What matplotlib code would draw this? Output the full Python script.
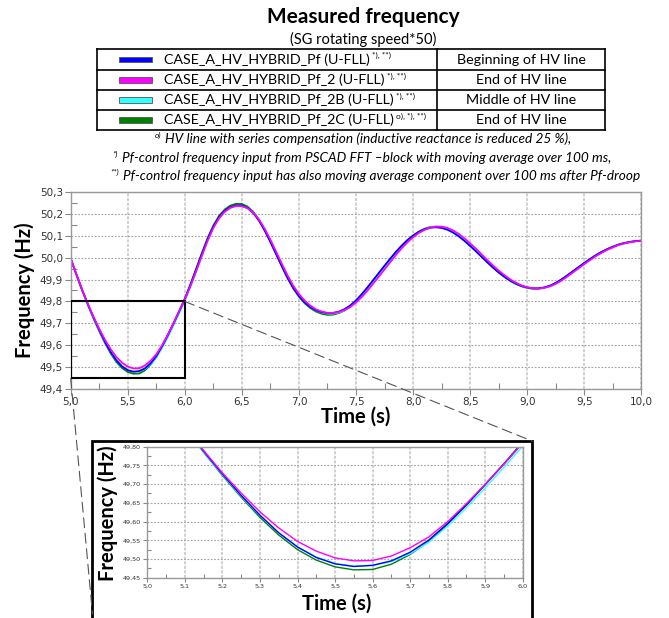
import numpy as np
import matplotlib
matplotlib.use('Agg')
import matplotlib.pyplot as plt
from matplotlib.patches import Rectangle, ConnectionPatch
from matplotlib.lines import Line2D
from matplotlib.ticker import MultipleLocator, FuncFormatter

W, H = 669, 618

# sample times 5.00 ... 10.00 s every 50 ms
time_s = np.round(np.arange(101) * 0.05 + 5.0, 2)

# measured frequencies (Hz)
freq_pf = [49.995, 49.923, 49.853, 49.788, 49.727, 49.670, 49.617, 49.570, 49.532, 49.504,
           49.487, 49.480, 49.483, 49.495, 49.518, 49.551, 49.595, 49.645, 49.699, 49.754,
           49.811, 49.876, 49.946, 50.017, 50.084, 50.141, 50.184, 50.213, 50.230, 50.238,
           50.237, 50.226, 50.203, 50.168, 50.123, 50.071, 50.016, 49.961, 49.908, 49.862,
           49.825, 49.796, 49.775, 49.760, 49.751, 49.747, 49.748, 49.754, 49.765, 49.782,
           49.805, 49.833, 49.864, 49.897, 49.930, 49.963, 49.995, 50.026, 50.054, 50.079,
           50.100, 50.117, 50.129, 50.136, 50.138, 50.135, 50.127, 50.114, 50.097, 50.076,
           50.053, 50.029, 50.004, 49.979, 49.955, 49.933, 49.913, 49.896, 49.882, 49.871,
           49.864, 49.860, 49.860, 49.864, 49.872, 49.884, 49.900, 49.918, 49.937, 49.956,
           49.975, 49.993, 50.010, 50.025, 50.038, 50.049, 50.059, 50.066, 50.071, 50.075,
           50.077]

freq_pf_2 = [49.995, 49.924, 49.854, 49.790, 49.730, 49.676, 49.626, 49.583, 49.547, 49.521,
             49.503, 49.495, 49.496, 49.508, 49.530, 49.559, 49.600, 49.648, 49.700, 49.754,
             49.810, 49.871, 49.939, 50.009, 50.077, 50.135, 50.179, 50.209, 50.227, 50.235,
             50.234, 50.225, 50.205, 50.173, 50.131, 50.081, 50.027, 49.972, 49.919, 49.872,
             49.834, 49.804, 49.781, 49.764, 49.754, 49.748, 49.748, 49.752, 49.761, 49.775,
             49.795, 49.820, 49.849, 49.881, 49.913, 49.946, 49.979, 50.012, 50.042, 50.069,
             50.092, 50.112, 50.126, 50.136, 50.141, 50.141, 50.135, 50.124, 50.108, 50.088,
             50.065, 50.041, 50.015, 49.989, 49.964, 49.941, 49.920, 49.901, 49.886, 49.873,
             49.865, 49.860, 49.859, 49.862, 49.869, 49.880, 49.895, 49.913, 49.932, 49.951,
             49.970, 49.988, 50.006, 50.021, 50.035, 50.046, 50.057, 50.064, 50.070, 50.074,
             50.076]

freq_pf_2b = [49.995, 49.923, 49.852, 49.786, 49.725, 49.668, 49.616, 49.570, 49.533, 49.505,
              49.488, 49.481, 49.483, 49.493, 49.514, 49.545, 49.588, 49.637, 49.690, 49.745,
              49.802, 49.867, 49.937, 50.009, 50.077, 50.136, 50.180, 50.210, 50.227, 50.235,
              50.234, 50.224, 50.203, 50.170, 50.127, 50.076, 50.021, 49.966, 49.913, 49.866,
              49.828, 49.798, 49.776, 49.760, 49.750, 49.745, 49.745, 49.750, 49.760, 49.776,
              49.798, 49.825, 49.856, 49.889, 49.922, 49.955, 49.988, 50.020, 50.049, 50.075,
              50.097, 50.115, 50.128, 50.137, 50.140, 50.138, 50.131, 50.119, 50.103, 50.082,
              50.059, 50.035, 50.009, 49.984, 49.959, 49.937, 49.916, 49.898, 49.884, 49.872,
              49.864, 49.860, 49.859, 49.863, 49.870, 49.882, 49.897, 49.915, 49.934, 49.953,
              49.972, 49.991, 50.008, 50.023, 50.036, 50.048, 50.058, 50.065, 50.071, 50.075,
              50.077]

freq_pf_2c = [49.995, 49.922, 49.851, 49.785, 49.723, 49.665, 49.611, 49.564, 49.525, 49.497,
              49.479, 49.471, 49.472, 49.486, 49.512, 49.547, 49.593, 49.644, 49.699, 49.755,
              49.813, 49.879, 49.950, 50.021, 50.089, 50.146, 50.190, 50.219, 50.237, 50.245,
              50.244, 50.232, 50.208, 50.172, 50.126, 50.073, 50.017, 49.961, 49.907, 49.860,
              49.822, 49.792, 49.770, 49.754, 49.744, 49.739, 49.740, 49.747, 49.759, 49.777,
              49.801, 49.829, 49.860, 49.893, 49.926, 49.959, 49.992, 50.024, 50.053, 50.079,
              50.100, 50.118, 50.131, 50.139, 50.141, 50.138, 50.130, 50.117, 50.100, 50.079,
              50.055, 50.031, 50.005, 49.979, 49.955, 49.932, 49.912, 49.894, 49.880, 49.869,
              49.862, 49.858, 49.858, 49.863, 49.871, 49.884, 49.900, 49.918, 49.937, 49.956,
              49.975, 49.993, 50.010, 50.025, 50.038, 50.049, 50.059, 50.066, 50.071, 50.075,
              50.077]

series = [freq_pf, freq_pf_2, freq_pf_2b, freq_pf_2c]
names = ["CASE_A_HV_HYBRID_Pf (U-FLL)", "CASE_A_HV_HYBRID_Pf_2 (U-FLL)",
         "CASE_A_HV_HYBRID_Pf_2B (U-FLL)", "CASE_A_HV_HYBRID_Pf_2C (U-FLL)"]
marks = ["*), **)", "*), **)", "*), **)", "o), *), **)"]
places = ["Beginning of HV line", "End of HV line", "Middle of HV line", "End of HV line"]
colors = ["#0000ff", "#ff00ff", "#33ffff", "#008000"]
draw_order = [3, 2, 0, 1]

notes = [("o)", "HV line with series compensation (inductive reactance is reduced 25 %),", 363),
         ("*)", "Pf-control frequency input from PSCAD FFT \u2013block with moving average over 100 ms,", 362),
         ("**)", "Pf-control frequency input has also moving average component over 100 ms after Pf-droop", 375)]

FONT = "Lato"
plt.rcParams['font.family'] = ['DejaVu Sans']

fig = plt.figure(figsize=(W / 100, H / 100), dpi=100)
fig.patch.set_facecolor('white')


def fx(x):
    return x / W


def fy(y):
    return 1 - y / H


def comma(dec):
    return FuncFormatter(lambda v, p: f"{v:.{dec}f}".replace('.', ','))


def style_axes(a, xmaj, xmin, ymaj, ymin, xdec, ydec, fs, tl):
    a.set_facecolor('white')
    a.xaxis.set_major_locator(MultipleLocator(xmaj))
    a.xaxis.set_minor_locator(MultipleLocator(xmin))
    a.yaxis.set_major_locator(MultipleLocator(ymaj))
    a.yaxis.set_minor_locator(MultipleLocator(ymin))
    a.xaxis.set_major_formatter(comma(xdec))
    a.yaxis.set_major_formatter(comma(ydec))
    a.tick_params(which='major', direction='out', length=tl, width=0.8, color='#888888',
                  labelsize=fs, labelcolor='#333333', pad=1.5)
    a.tick_params(which='minor', direction='in', length=tl, width=0.8, color='#888888')
    a.grid(which='major', axis='y', color='#a0a0a0', lw=0.8, ls=(0, (1.5, 1.5)))
    a.grid(which='major', axis='x', color='#c4c4c4', lw=1.1, ls=(0, (2, 1)))
    a.set_axisbelow(True)
    for s in a.spines.values():
        s.set_color('#999999')
        s.set_linewidth(1.0)


# main chart
ax = fig.add_axes([fx(70.7), fy(389.3), (641.3 - 70.7) / W, (389.3 - 191.7) / H])
for i in draw_order:
    ax.plot(time_s, series[i], color=colors[i], lw=1.3)
ax.set_xlim(5.0, 10.0)
ax.set_ylim(49.4, 50.3)
style_axes(ax, 0.5, 0.25, 0.1, 0.05, 1, 1, 7.5, 4)
ax.add_patch(Rectangle((5.0, 49.45), 1.0, 0.35, fill=False, ec='black', lw=1.5, zorder=5))

fig.text(fx(25), fy(290), "Frequency (Hz)", rotation=90, ha='center', va='center',
         family=FONT, weight='bold', fontsize=14.5)
fig.text(fx(356), fy(417), "Time (s)", ha='center', va='center',
         family=FONT, weight='bold', fontsize=14.5)

# zoomed view
axi = fig.add_axes([fx(147.3), fy(577.7), (522.8 - 147.3) / W, (577.7 - 446.7) / H])
for i in draw_order:
    axi.plot(time_s, series[i], color=colors[i], lw=1.0)
axi.set_xlim(5.0, 6.0)
axi.set_ylim(49.45, 49.80)
style_axes(axi, 0.1, 0.05, 0.05, 0.025, 1, 2, 4.6, 3)

fig.add_artist(Rectangle((fx(92.3), fy(625)), (532 - 92.3) / W, (625 - 440.7) / H,
                         transform=fig.transFigure, fill=False, ec='black', lw=2, zorder=1))
fig.text(fx(108), fy(513), "Frequency (Hz)", rotation=90, ha='center', va='center',
         family=FONT, weight='bold', fontsize=14.5)
fig.text(fx(337), fy(604), "Time (s)", ha='center', va='center',
         family=FONT, weight='bold', fontsize=14.5)

for xy_a, xy_b in [((6.0, 49.8), (fx(532), fy(441))), ((5.0, 49.45), (fx(92.5), fy(614)))]:
    con = ConnectionPatch(xyA=xy_a, coordsA=ax.transData, xyB=xy_b, coordsB=fig.transFigure,
                          color='#555555', lw=0.8, ls=(0, (9, 5)))
    fig.add_artist(con)

# title
fig.text(fx(363), fy(17), "Measured frequency", ha='center', va='center',
         family=FONT, weight='bold', fontsize=15)
fig.text(fx(363), fy(39), "(SG rotating speed*50)", ha='center', va='center',
         family=FONT, fontsize=10.5)

# legend table
tab_l, tab_r, tab_mid = 97, 605, 437
row_lines = [49.3, 70, 90, 110, 130]
for y in row_lines:
    fig.add_artist(Line2D([fx(tab_l), fx(tab_r)], [fy(y), fy(y)], color='black', lw=1.2,
                          transform=fig.transFigure))
for x in [tab_l, tab_mid, tab_r]:
    fig.add_artist(Line2D([fx(x), fx(x)], [fy(row_lines[0]), fy(row_lines[-1])], color='black',
                          lw=1.2, transform=fig.transFigure))

renderer = fig.canvas.get_renderer()
for k in range(4):
    yc = (row_lines[k] + row_lines[k + 1]) / 2
    fig.add_artist(Rectangle((fx(119), fy(yc + 2.6)), 33 / W, 5.2 / H, transform=fig.transFigure,
                             fc=colors[k], ec='#555555', lw=0.6))
    t = fig.text(fx(164), fy(yc), names[k], ha='left', va='center', family=FONT, fontsize=10.3)
    bb = t.get_window_extent(renderer)
    fig.text(bb.x1 / W + 2 / W, fy(yc - 4), marks[k], ha='left', va='center',
             family=FONT, fontsize=6)
    fig.text(fx((tab_mid + tab_r) / 2), fy(yc), places[k], ha='center', va='center',
             family=FONT, fontsize=10.3)

# footnotes
for (sup, body, cx), y in zip(notes, [139, 158, 176]):
    ts = fig.text(0, fy(y - 4), sup, ha='left', va='center', family=FONT, style='italic', fontsize=6)
    tb = fig.text(0, fy(y), body, ha='left', va='center', family=FONT, style='italic', fontsize=9.8)
    ws = ts.get_window_extent(renderer).width
    wb = tb.get_window_extent(renderer).width
    x0 = cx - (ws + 4 + wb) / 2
    ts.set_x(fx(x0))
    tb.set_x(fx(x0 + ws + 4))

fig.savefig("out.png", dpi=100)
